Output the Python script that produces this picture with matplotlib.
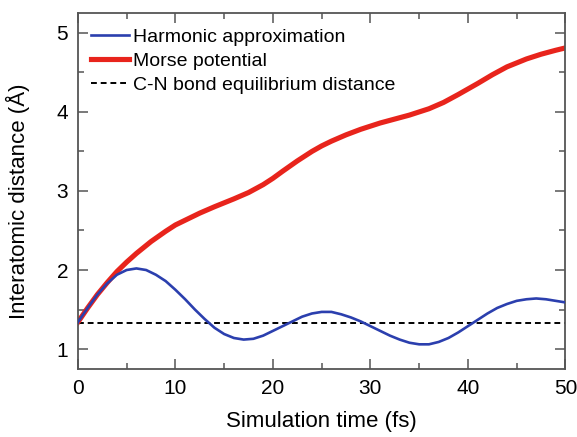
import matplotlib
matplotlib.use("Agg")
import matplotlib.pyplot as plt
from matplotlib.ticker import MultipleLocator

plt.rcParams['font.family'] = ['Liberation Sans', 'DejaVu Sans']

# Simulation time (fs) and interatomic distances (Å)
time_morse = [0, 1, 2, 3, 4, 5, 6, 7.5, 9, 10, 11, 12.5, 14, 15, 16, 17.5, 19, 20,
              21, 22.5, 24, 25, 26, 27.5, 29, 30, 31, 32.5, 34, 35, 36, 37.5, 39,
              40, 41, 42.5, 44, 45, 46, 47.5, 49, 50]
morse = [1.34, 1.52, 1.69, 1.84, 1.98, 2.10, 2.21, 2.36, 2.49, 2.57, 2.63, 2.72,
         2.80, 2.85, 2.90, 2.98, 3.08, 3.16, 3.25, 3.38, 3.50, 3.57, 3.63, 3.71,
         3.78, 3.82, 3.86, 3.91, 3.96, 4.00, 4.04, 4.12, 4.22, 4.29, 4.36, 4.47,
         4.57, 4.62, 4.67, 4.73, 4.78, 4.81]

time_harmonic = [0, 1, 2, 3, 4, 5, 6, 7, 8, 9, 10, 11, 12, 13, 14, 15, 16, 17, 18,
                 19, 20, 21, 22, 23, 24, 25, 26, 27, 28, 29, 30, 31, 32, 33, 34,
                 35, 36, 37, 38, 39, 40, 41, 42, 43, 44, 45, 46, 47, 48, 49, 50]
harmonic = [1.34, 1.52, 1.69, 1.83, 1.94, 2.00, 2.02, 2.00, 1.94, 1.86, 1.75, 1.63,
            1.50, 1.38, 1.27, 1.19, 1.14, 1.12, 1.13, 1.17, 1.23, 1.29, 1.35, 1.41,
            1.45, 1.47, 1.47, 1.44, 1.40, 1.35, 1.29, 1.23, 1.17, 1.12, 1.08, 1.06,
            1.06, 1.09, 1.14, 1.21, 1.29, 1.37, 1.45, 1.52, 1.57, 1.61, 1.63, 1.64,
            1.63, 1.61, 1.59]

equilibrium = 1.335

fig = plt.figure(figsize=(5.77, 4.37), dpi=100)
ax = fig.add_axes([0.135, 0.156, 0.845, 0.814])

ax.plot(time_harmonic, harmonic, color='#2b3fae', lw=1.9,
        label='Harmonic approximation', zorder=3)
ax.plot(time_morse, morse, color='#e8241c', lw=3.7,
        label='Morse potential', zorder=2)
ax.axhline(equilibrium, color='black', lw=1.4, ls=(0, (3, 2)),
           label='C-N bond equilibrium distance', zorder=1)

ax.set_xlim(0, 50)
ax.set_ylim(0.75, 5.25)
ax.xaxis.set_major_locator(MultipleLocator(10))
ax.xaxis.set_minor_locator(MultipleLocator(5))
ax.yaxis.set_major_locator(MultipleLocator(1))
ax.yaxis.set_minor_locator(MultipleLocator(0.5))
ax.tick_params(which='both', direction='in', top=True, right=True,
               color='#555555', labelsize=15, pad=7)
ax.tick_params(which='major', length=7, width=1.1)
ax.tick_params(which='minor', length=4, width=1.1)
for s in ax.spines.values():
    s.set_color('#555555')
    s.set_linewidth(1.3)

ax.set_xlabel('Simulation time (fs)', fontsize=16)
ax.set_ylabel('Interatomic distance (Å)', fontsize=16)
ax.xaxis.set_label_coords(0.5, -0.118)
ax.yaxis.set_label_coords(-0.099, 0.472)

ax.legend(loc='upper left', frameon=False, fontsize=14, handlelength=2.0,
          handletextpad=0.2, labelspacing=0.32, borderaxespad=0.4,
          bbox_to_anchor=(-0.006, 1.0))

fig.savefig('out.png', dpi=100)
plt.close(fig)
